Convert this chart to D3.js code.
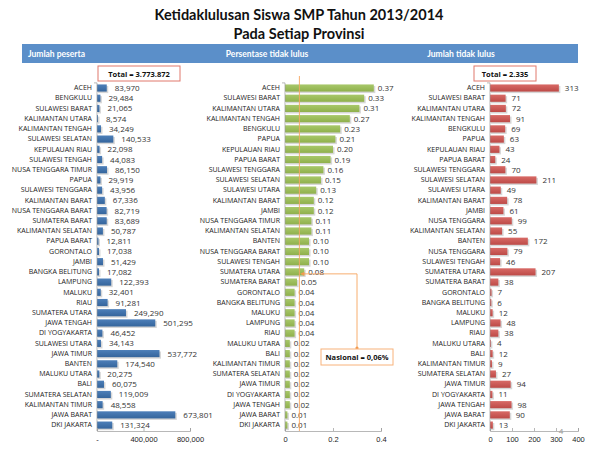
<!DOCTYPE html>
<html><head><meta charset="utf-8">
<script src="https://cdn.jsdelivr.net/npm/d3@7"></script>
<style>
body{margin:0;background:#fff;}
svg{display:block;font-family:"Open Sans",sans-serif;}
</style></head><body>
<svg id="c" width="599" height="449"></svg>
<script>
const leftCats = ["ACEH","BENGKULU","SULAWESI BARAT","KALIMANTAN UTARA","KALIMANTAN TENGAH","SULAWESI SELATAN","KEPULAUAN RIAU","SULAWESI TENGAH","NUSA TENGGARA TIMUR","PAPUA","SULAWESI TENGGARA","KALIMANTAN BARAT","NUSA TENGGARA BARAT","SUMATERA BARAT","KALIMANTAN SELATAN","PAPUA BARAT","GORONTALO","JAMBI","BANGKA BELITUNG","LAMPUNG","MALUKU","RIAU","SUMATERA UTARA","JAWA TENGAH","DI YOGYAKARTA","SULAWESI UTARA","JAWA TIMUR","BANTEN","MALUKU UTARA","BALI","SUMATERA SELATAN","KALIMANTAN TIMUR","JAWA BARAT","DKI JAKARTA"];
const leftVals = [83970,29484,21065,8574,34249,140533,22098,44083,86150,29919,43956,67336,82719,83689,50787,12811,17038,51429,17082,122393,32401,91281,249290,501295,46452,34143,537772,174540,20275,60075,119009,48558,673801,131324];

const midCats = ["ACEH","SULAWESI BARAT","KALIMANTAN UTARA","KALIMANTAN TENGAH","BENGKULU","PAPUA","KEPULAUAN RIAU","PAPUA BARAT","SULAWESI TENGGARA","SULAWESI SELATAN","SULAWESI UTARA","KALIMANTAN BARAT","JAMBI","NUSA TENGGARA TIMUR","KALIMANTAN SELATAN","BANTEN","NUSA TENGGARA BARAT","SULAWESI TENGAH","SUMATERA UTARA","SUMATERA BARAT","GORONTALO","BANGKA BELITUNG","MALUKU","LAMPUNG","RIAU","MALUKU UTARA","BALI","KALIMANTAN TIMUR","SUMATERA SELATAN","JAWA TIMUR","DI YOGYAKARTA","JAWA TENGAH","JAWA BARAT","DKI JAKARTA"];
const midVals = [0.37,0.33,0.31,0.27,0.23,0.21,0.20,0.19,0.16,0.15,0.13,0.12,0.12,0.11,0.11,0.10,0.10,0.10,0.08,0.05,0.04,0.04,0.04,0.04,0.04,0.02,0.02,0.02,0.02,0.02,0.02,0.02,0.01,0.01];

const rightCats = ["ACEH","SULAWESI BARAT","KALIMANTAN UTARA","KALIMANTAN TENGAH","BENGKULU","PAPUA","KEPULAUAN RIAU","PAPUA BARAT","SULAWESI TENGGARA","SULAWESI SELATAN","SULAWESI UTARA","KALIMANTAN BARAT","JAMBI","NUSA TENGGARA","KALIMANTAN SELATAN","BANTEN","NUSA TENGGARA","SULAWESI TENGAH","SUMATERA UTARA","SUMATERA BARAT","GORONTALO","BANGKA BELITUNG","MALUKU","LAMPUNG","RIAU","MALUKU UTARA","BALI","KALIMANTAN TIMUR","SUMATERA SELATAN","JAWA TIMUR","DI YOGYAKARTA","JAWA TENGAH","JAWA BARAT","DKI JAKARTA"];
const rightVals = [313,71,72,91,69,63,43,24,70,211,49,78,61,99,55,172,79,46,207,38,7,6,12,48,38,4,12,9,27,94,11,98,90,13];

const leftTicks = [0,400000,800000];
const leftTickLabels = ["-","400,000","800,000"];
const midTicks = [0,0.2,0.4];
const midTickLabels = ["0","0.2","0.4"];
const rightTicks = [0,100,200,300,400];
const rightTickLabels = ["0","100","200","300","400"];
const nationalPct = 0.06;
const totalPeserta = "Total = 3.773.872";
const totalTidakLulus = "Total = 2.335";

const svg = d3.select("#c");
const defs = svg.append("defs");
function grad(id, c1, c2){
  const g = defs.append("linearGradient").attr("id",id).attr("x1",0).attr("y1",0).attr("x2",0).attr("y2",1);
  g.append("stop").attr("offset","0%").attr("stop-color",c1);
  g.append("stop").attr("offset","100%").attr("stop-color",c2);
}
grad("gBlue","#4d7fb9","#35659c");
grad("gGreen","#a8c86a","#8fb04c");
grad("gRed","#d86a66","#bd4a47");

// Title
svg.append("text").attr("x",299).attr("y",20).attr("text-anchor","middle")
  .style("font-family","Lato").style("font-weight","bold").style("font-size","14.5px").attr("fill","#111")
  .text("Ketidaklulusan Siswa SMP Tahun 2013/2014");
svg.append("text").attr("x",299).attr("y",38.5).attr("text-anchor","middle")
  .style("font-family","Lato").style("font-weight","bold").style("font-size","14.5px").attr("fill","#111")
  .text("Pada Setiap Provinsi");

// Header bar
svg.append("rect").attr("x",22).attr("y",44).attr("width",556).attr("height",19).attr("fill","#5b8fc9");
const hdr = [["Jumlah peserta",28,"start"],["Persentase tidak lulus",267,"middle"],["Jumlah tidak lulus",461,"middle"]];
hdr.forEach(h=>svg.append("text").attr("x",h[1]).attr("y",56.5).attr("text-anchor",h[2])
  .style("font-family","Lato").style("font-weight","bold").style("font-size","8.5px").attr("fill","#fff").text(h[0]));

const yTop = 82.9, yBot = 430.2, axisY = 431;

function panel(cats, vals, x0, x1, dmax, ticks, tickLabels, fill, fmt, lblOff){
  const idx = cats.map((d,i)=>i);
  const y = d3.scaleBand().domain(idx).range([yTop,yBot]).paddingInner(0.3).paddingOuter(0.15);
  const x = d3.scaleLinear().domain([0,dmax]).range([x0,x1]);
  const g = svg.append("g");
  g.selectAll("rect.sh").data(vals).enter().append("rect")
    .attr("x",x(0)+1).attr("y",(d,i)=>y(i)+1.5)
    .attr("width",d=>Math.max(0,x(d)-x(0))+0.5).attr("height",y.bandwidth())
    .attr("fill","#bdbdbd").attr("opacity",0.6);
  g.selectAll("rect.b").data(vals).enter().append("rect")
    .attr("x",x(0)).attr("y",(d,i)=>y(i))
    .attr("width",d=>Math.max(0.8,x(d)-x(0))).attr("height",y.bandwidth())
    .attr("fill",fill);
  g.selectAll("text.v").data(vals).enter().append("text")
    .attr("x",d=>x(d)+lblOff).attr("y",(d,i)=>y(i)+y.bandwidth()/2+3)
    .style("font-size","8px").attr("fill","#333").text(fmt);
  const ax = g.append("g").attr("transform",`translate(${x0},0)`)
    .call(d3.axisLeft(y).tickSize(0).tickPadding(5).tickFormat(i=>cats[i]));
  ax.select(".domain").remove();
  ax.selectAll("text").style("font-size","7px").style("font-family","Open Sans").attr("fill","#222");
  g.append("line").attr("x1",x0).attr("x2",x0).attr("y1",yTop).attr("y2",axisY).attr("stroke","#999").attr("stroke-width",0.7);
  g.append("line").attr("x1",x0-3).attr("x2",x0).attr("y1",yTop).attr("y2",yTop).attr("stroke","#999").attr("stroke-width",0.7);
  const bx = g.append("g").attr("transform",`translate(0,${axisY})`)
    .call(d3.axisBottom(x).tickValues(ticks).tickSize(-3).tickPadding(6).tickFormat((d,i)=>tickLabels[i]));
  bx.select(".domain").attr("stroke","#999").attr("stroke-width",0.7);
  bx.selectAll("line").attr("stroke","#999").attr("stroke-width",0.7);
  bx.selectAll("text").style("font-size","7.5px").attr("fill","#222");
  return {x,y};
}

panel(leftCats,leftVals,97,190,800000,leftTicks,leftTickLabels,"url(#gBlue)",d3.format(","),8);
const mid = panel(midCats,midVals,285,381,0.4,midTicks,midTickLabels,"url(#gGreen)",d3.format(".2f"),4);
panel(rightCats,rightVals,490,578,400,rightTicks,rightTickLabels,"url(#gRed)",d=>d,6);

// National line
const nx = mid.x(nationalPct);
svg.append("line").attr("x1",nx).attr("x2",nx).attr("y1",76).attr("y2",axisY).attr("stroke","#f6a55f").attr("stroke-width",0.9);
const rowY = mid.y(18)+mid.y.bandwidth()/2+2;
svg.append("polyline").attr("points",`${nx+2},${rowY} 357,${rowY} 357,348`).attr("fill","none").attr("stroke","#f6a55f").attr("stroke-width",0.9);
svg.append("path").attr("d",`M${nx+1},${rowY} l4,-2.2 l0,4.4 z`).attr("fill","#f29a4e");
svg.append("circle").attr("cx",357).attr("cy",348).attr("r",1.6).attr("fill","#f29a4e");
svg.append("rect").attr("x",321).attr("y",349).attr("width",72).attr("height",16).attr("fill","#fff").attr("stroke","#f8b27a").attr("stroke-width",1);
svg.append("text").attr("x",357).attr("y",360).attr("text-anchor","middle").style("font-weight","bold").style("font-size","7.5px").attr("fill","#111").text("Nasional = 0,06%");

// Total boxes
svg.append("rect").attr("x",98).attr("y",66).attr("width",82).attr("height",15).attr("fill","#fff").attr("stroke","#e0786c").attr("stroke-width",1);
svg.append("text").attr("x",139).attr("y",76.5).attr("text-anchor","middle").style("font-weight","bold").style("font-size","7.5px").attr("fill","#111").text(totalPeserta);
svg.append("rect").attr("x",474).attr("y",66).attr("width",62).attr("height",15).attr("fill","#fff").attr("stroke","#e0786c").attr("stroke-width",1);
svg.append("text").attr("x",505).attr("y",76.5).attr("text-anchor","middle").style("font-weight","bold").style("font-size","7.5px").attr("fill","#111").text(totalTidakLulus);

// slide number
svg.append("text").attr("x",561).attr("y",434).attr("text-anchor","middle").style("font-size","8px").attr("fill","#999").text("4");
</script>
</body></html>
